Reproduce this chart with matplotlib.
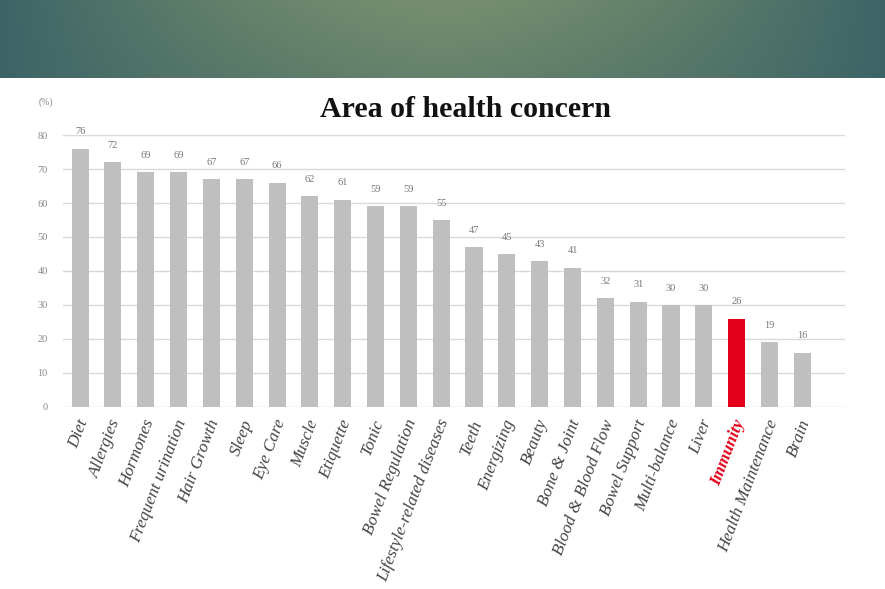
import numpy as np
import matplotlib
matplotlib.use('Agg')
import matplotlib.pyplot as plt
import matplotlib.transforms as mtransforms

categories = ['Diet', 'Allergies', 'Hormones', 'Frequent urination', 'Hair Growth',
              'Sleep', 'Eye Care', 'Muscle', 'Etiquette', 'Tonic', 'Bowel Regulation',
              'Lifestyle-related diseases', 'Teeth', 'Energizing', 'Beauty', 'Bone & Joint',
              'Blood & Blood Flow', 'Bowel Support', 'Multi-balance', 'Liver', 'Immunity',
              'Health Maintenance', 'Brain']
values = [76, 72, 69, 69, 67, 67, 66, 62, 61, 59, 59, 55, 47, 45, 43, 41,
          32, 31, 30, 30, 26, 19, 16]
highlight = 'Immunity'
yticks = [0, 10, 20, 30, 40, 50, 60, 70, 80]

fig = plt.figure(figsize=(8.85, 5.89), dpi=100)

# banner across the top
bax = fig.add_axes([0, 1 - 78/589, 1, 78/589])
w, h = 300, 40
xx = np.linspace(-1, 1, w)
yy = np.linspace(0, 1, h)
X, Y = np.meshgrid(xx, yy)
edge = np.array([0.24, 0.39, 0.40])
mid = np.array([0.46, 0.56, 0.43])
t = np.clip(1 - np.abs(X) ** 1.5, 0, 1) * (0.7 + 0.3 * (1 - Y))
img = edge[None, None, :] * (1 - t[..., None]) + mid[None, None, :] * t[..., None]
bax.imshow(img, aspect='auto', extent=[0, 1, 0, 1], origin='upper')
bax.axis('off')

ax = fig.add_axes([63/885, 1 - 407/589, (845 - 63)/885, (407 - 135)/589])
x = np.arange(len(categories))
colors = ['#e2001a' if c == highlight else '#bfbfbf' for c in categories]
ax.bar(x, values, width=0.52, color=colors, zorder=3)

for xi, v in zip(x, values):
    ax.annotate(str(v), (xi, v), xytext=(0, 12), textcoords='offset points',
                ha='center', va='center', fontsize=7.5, color='#777777',
                family='Liberation Serif')

ax.set_ylim(0, 80)
ax.set_xlim(-0.52, 23.3)
ax.set_yticks(yticks)
ax.set_yticklabels([str(v) for v in yticks], fontsize=7.5, color='#888888',
                   family='Liberation Serif')
ax.yaxis.grid(True, color='#d9d9d9', lw=1, zorder=0)
ax.tick_params(axis='both', length=0)
ax.tick_params(axis='y', pad=11)
for s in ax.spines.values():
    s.set_visible(False)

# category labels, drawn by hand so they can sit a little right of the bar centre
ax.set_xticks(x)
ax.set_xticklabels([])
lbl_tr = ax.get_xaxis_transform() + mtransforms.ScaledTranslation(4/100, -13/100, fig.dpi_scale_trans)
for xi, c in zip(x, categories):
    red = c == highlight
    ax.text(xi, 0, c, transform=lbl_tr, rotation=69, ha='right', va='center',
            rotation_mode='anchor', fontsize=12.3, style='italic',
            family='Liberation Serif', color='#e2001a' if red else '#444444',
            fontweight='bold' if red else 'normal', clip_on=False)

ax.text(0.515, 1.095, 'Area of health concern', transform=ax.transAxes,
        ha='center', va='center', fontsize=21.5, fontweight='bold',
        family='Liberation Serif', color='#111111', zorder=5,
        bbox=dict(boxstyle='square,pad=0.25', fc='white', ec='none'))
ax.text(-0.022, 1.12, '(%)', transform=ax.transAxes, ha='center', va='center',
        fontsize=7, color='#888888', family='Liberation Serif')

fig.savefig('out.png', dpi=100)
